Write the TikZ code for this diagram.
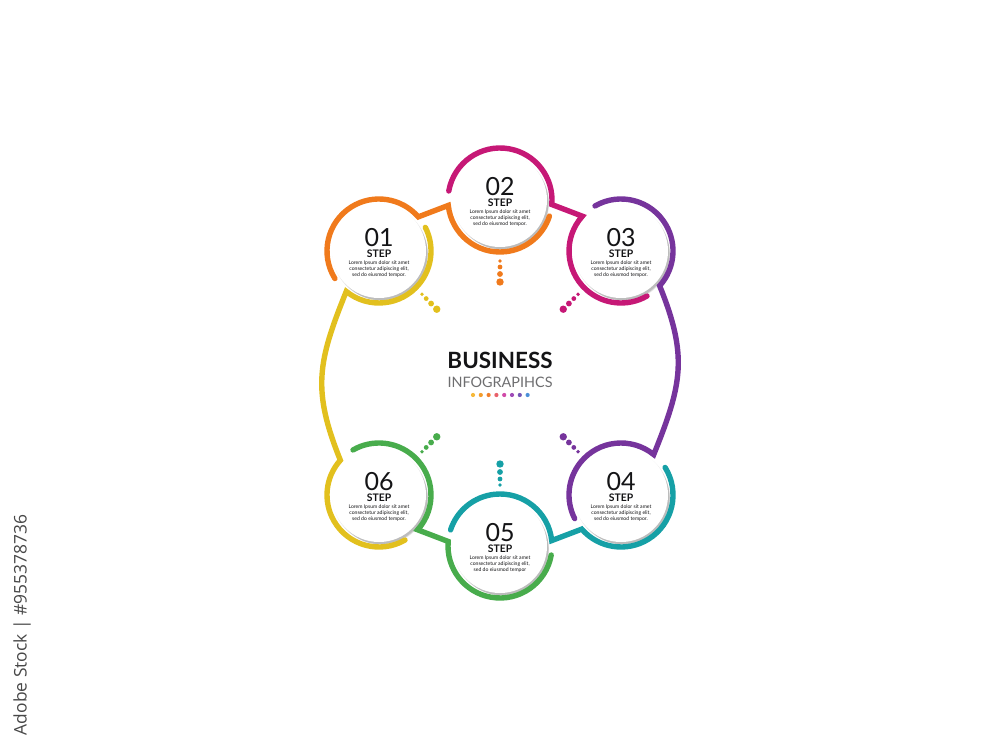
\documentclass[tikz,border=0pt]{standalone}
\usepackage{fontspec}
\setmainfont{Lato}
\setsansfont{Open Sans}
\usetikzlibrary{calc}
\definecolor{ink}{RGB}{20,20,22}
\definecolor{greytext}{RGB}{110,110,112}
\definecolor{tangerine}{RGB}{240,122,28}
\definecolor{berry}{RGB}{198,24,118}
\definecolor{grape}{RGB}{118,52,156}
\definecolor{lagoon}{RGB}{22,160,166}
\definecolor{leaf}{RGB}{72,172,76}
\definecolor{mustard}{RGB}{226,192,30}
\definecolor{dota}{RGB}{246,185,59}
\definecolor{dotb}{RGB}{243,156,43}
\definecolor{dotc}{RGB}{240,126,42}
\definecolor{dotd}{RGB}{232,96,106}
\definecolor{dote}{RGB}{208,74,168}
\definecolor{dotf}{RGB}{159,76,184}
\definecolor{dotg}{RGB}{116,87,181}
\definecolor{doth}{RGB}{74,143,216}

\begin{document}
\begin{tikzpicture}[
  x=0.5pt, y=0.5pt,
  ring/.style={circle, inner sep=0pt, outer sep=0pt, minimum size=52pt},
  disc/.style={circle, fill=white, inner sep=0pt, outer sep=0pt, minimum size=47pt},
  band/.style={line width=2.7pt, line cap=round},
  num/.style={font=\fontsize{12.5}{12.5}\selectfont, text=ink, inner sep=0pt},
  steplbl/.style={font=\fontsize{5.2}{5.2}\selectfont\bfseries, text=ink, inner sep=0pt},
  lorem/.style={font=\fontsize{2.55}{3.05}\selectfont, align=center, text=ink, inner sep=0pt}]

  \useasboundingbox (0,0) rectangle (1000,750);

  % --- six steps round the middle
  \coordinate (mid) at (500,377);
  \foreach \n/\x/\y/\e in {1/379/499/., 2/500/550/., 3/621/499/., 4/621/255/., 5/500/204/, 6/379/255/.} {
    \node[ring] (s\n) at (\x,\y) {};
    % soft shadow, down and to the right
    \foreach \k in {0,...,4}
      \fill[black, opacity=0.06] ($(s\n)+(1+0.5*\k,-1.5-0.6*\k)$) circle[radius=47.5-0.4*\k];
    \node[disc] (d\n) at (s\n) {};
    \node[num]     (n\n) at ($(s\n)+(0,13)$)  {0\n};
    \node[steplbl] (t\n) at ($(s\n)+(0,-3)$)  {STEP};
    \node[lorem]   (l\n) at ($(s\n)+(0,-18)$)
      {Lorem Ipsum dolor sit amet\\consectetur adipiscing elit,\\sed do eiusmod tempor\e};
  }

  % --- the bands: each one runs round the outer side of a step
  % and then round the inner side of the next one
  \draw[band, tangerine] (s1.212) arc[start angle=212, end angle=41, radius=52]
    -- (s2.186) arc[start angle=186, end angle=342, radius=52];
  \draw[band, berry] (s2.170) arc[start angle=170, end angle=-5, radius=52]
    -- (s3.138) arc[start angle=138, end angle=300, radius=52];
  \draw[band, grape] (s3.120) arc[start angle=120, end angle=-42, radius=52]
    to[out=-68, in=68, looseness=1.15] (s4.51) arc[start angle=51, end angle=207, radius=52];
  \draw[band, lagoon] (s4.32) arc[start angle=32, end angle=-139, radius=52]
    -- (s5.6) arc[start angle=6, end angle=162, radius=52];
  \draw[band, leaf] (s5.350) arc[start angle=350, end angle=175, radius=52]
    -- (s6.318) arc[start angle=318, end angle=480, radius=52];
  \draw[band, mustard] (s6.300) arc[start angle=300, end angle=138, radius=52]
    to[out=112, in=-112, looseness=1.15] (s1.231) arc[start angle=231, end angle=387, radius=52];

  % --- dot trails pointing at the middle
  \foreach \n/\c in {1/mustard, 2/tangerine, 3/berry, 4/grape, 5/lagoon, 6/leaf}
    \foreach \d/\r in {30.5pt/1.9, 33.5pt/2.4, 37pt/2.9, 41pt/3.7}
      \fill[\c] ($(s\n)!\d!(mid)$) circle[radius=\r];

  % --- title
  \node[font=\fontsize{11.2}{11.2}\selectfont\bfseries, text=ink, inner sep=0pt]
    (title) at (500,390) {BUSINESS};
  \node[font=\fontsize{7.2}{7.2}\selectfont, text=greytext, inner sep=0pt]
    (sub) at (500,368) {INFOGRAPIHCS};
  \foreach \c [count=\i from 0] in {dota, dotb, dotc, dotd, dote, dotf, dotg, doth}
    \fill[\c] (473+7.8*\i,355) circle[radius=2.1];

  % --- stock mark along the left edge
  \node[rotate=90, font=\sffamily\fontsize{8.7}{8.7}\selectfont, text=black!72, inner sep=0pt]
    (mark) at (22,125) {Adobe Stock | \#955378736};
\end{tikzpicture}
\end{document}
